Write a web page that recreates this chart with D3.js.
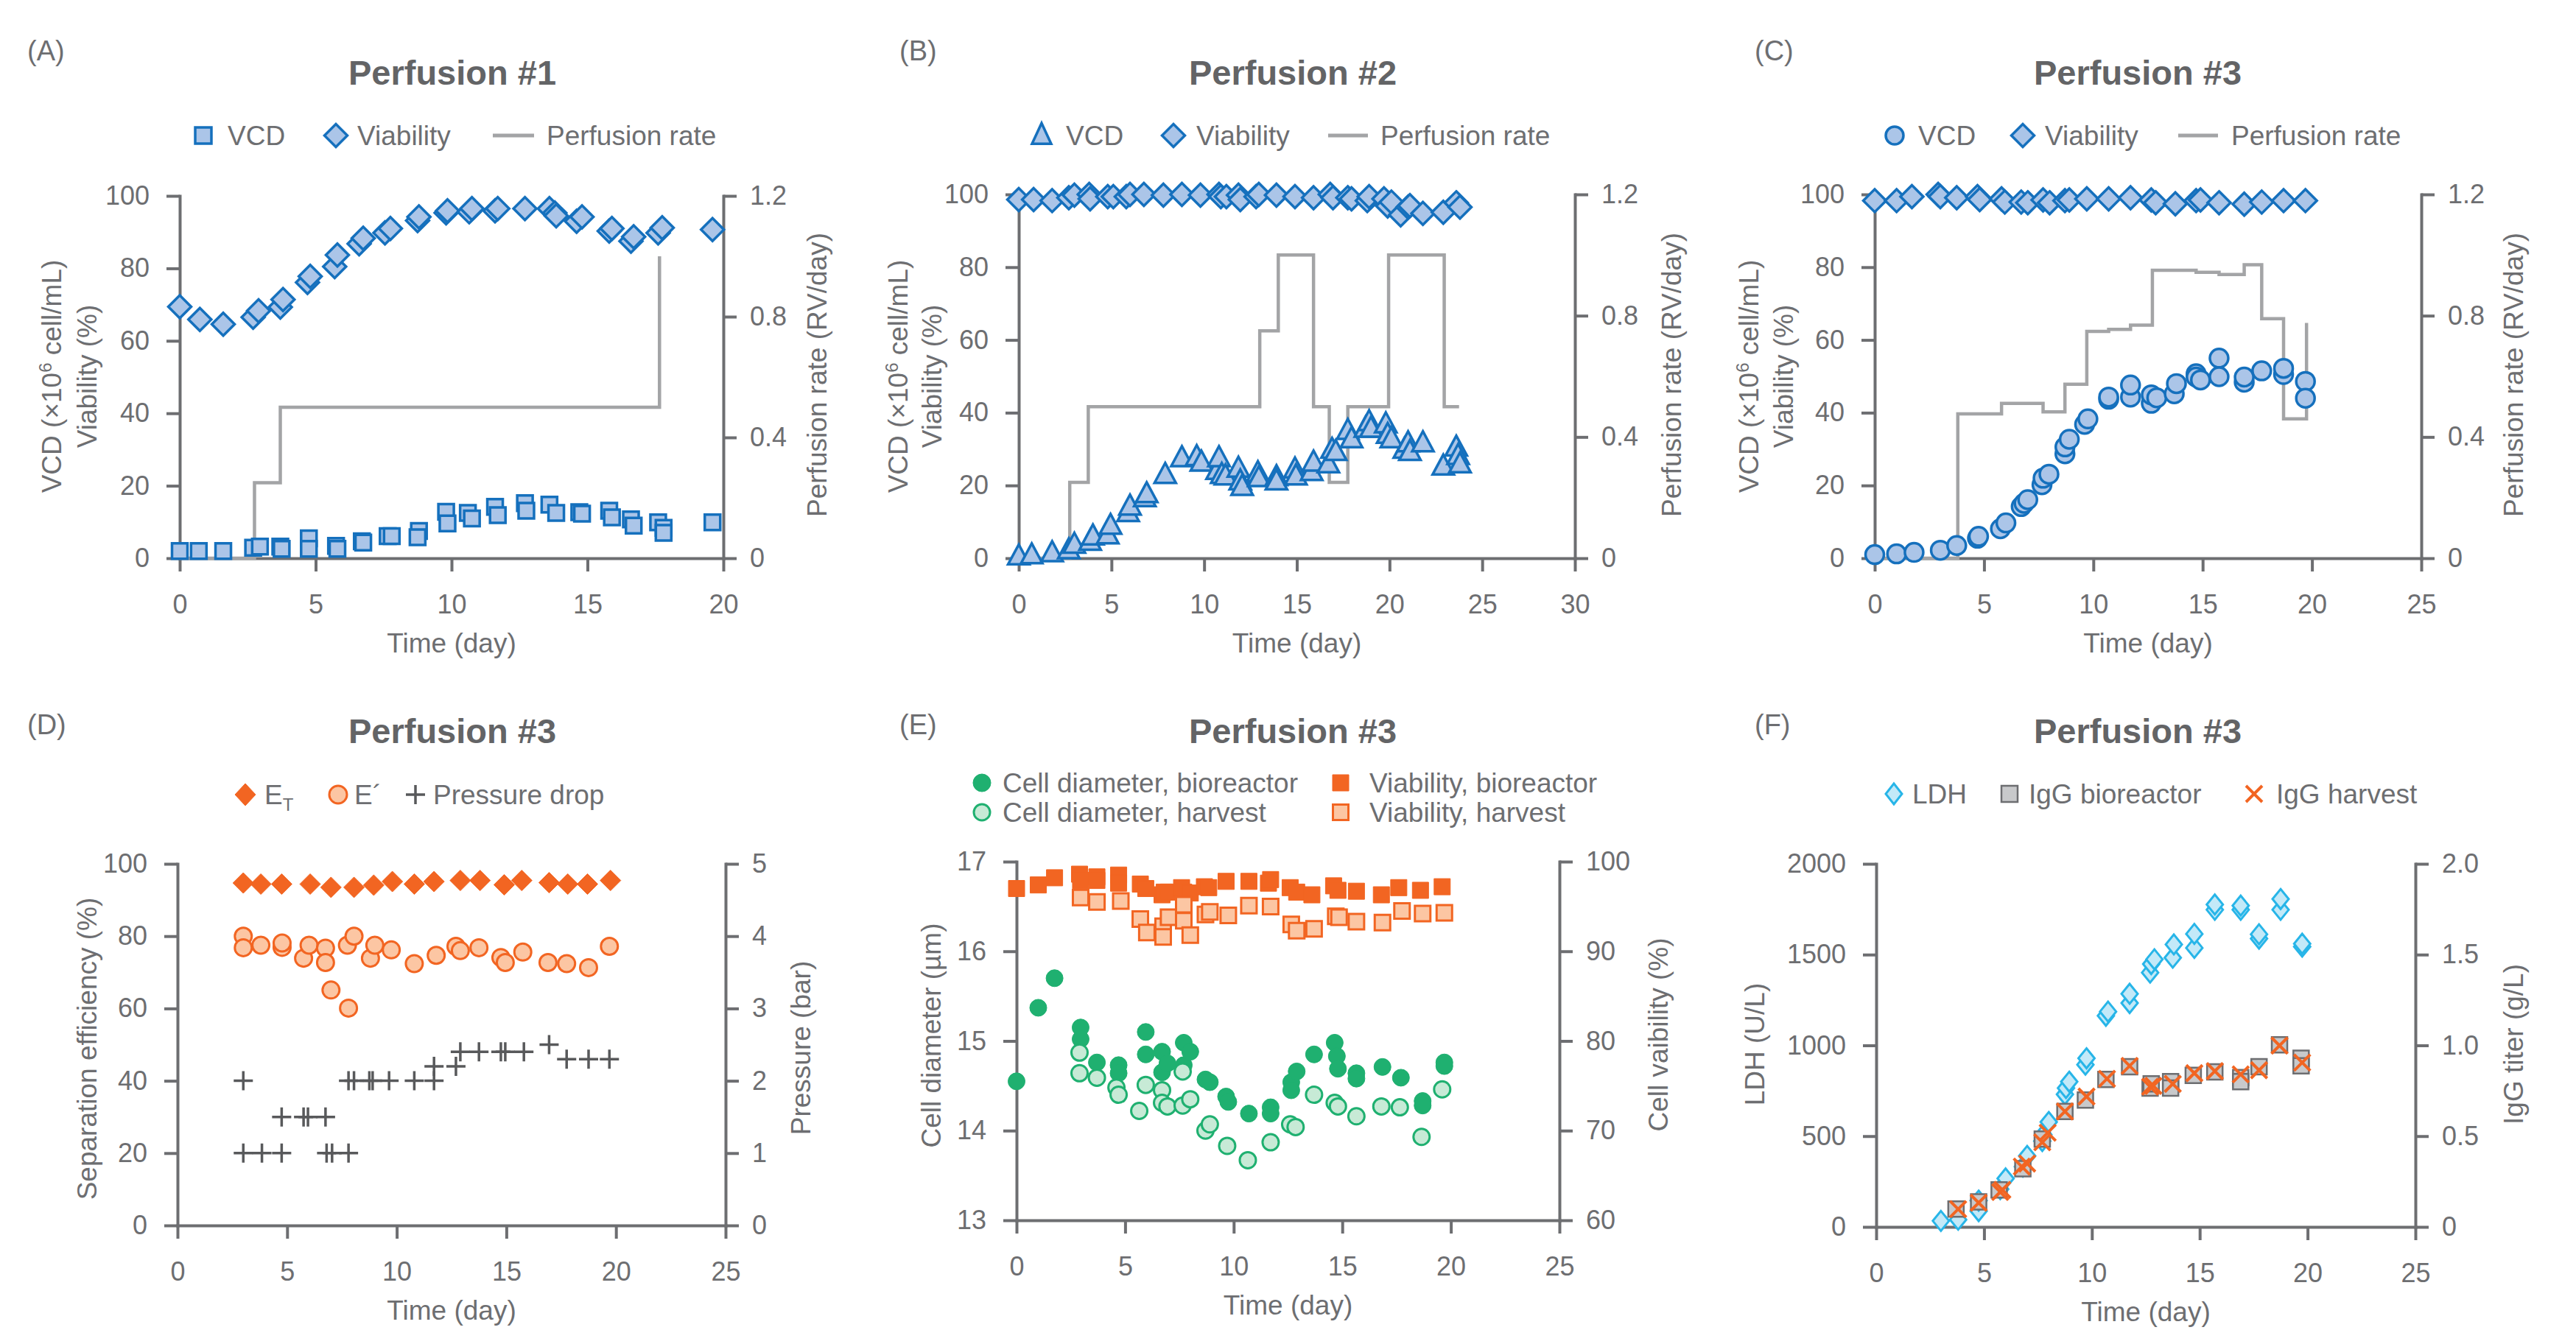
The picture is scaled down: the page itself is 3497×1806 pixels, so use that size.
<html>
<head>
<script src="https://d3js.org/d3.v7.min.js"></script>
<style>
  body { margin: 0; background: white; }
  text { font-family: "Liberation Sans", Arial, sans-serif; fill: #6d6e71; }
</style>
</head>
<body>
<svg width="3497" height="1806"></svg>
<script>
// ---- data (day, value) ----
var vcdA = [[0,2.0],[0.7,2.0],[1.6,2.0],[2.7,2.9],[2.95,3.2],[3.7,3.2],[3.75,2.6],[4.75,5.5],[4.75,2.6],[5.75,3.4],[5.8,2.6],[6.7,4.7],[6.75,4.3],[7.65,6.1],[7.8,6.1],[8.8,7.5],[8.75,5.8],[9.8,12.8],[9.85,9.6],[10.6,12.5],[10.75,11.0],[11.6,14.2],[11.7,11.9],[12.7,15.2],[12.75,13.1],[13.6,14.8],[13.85,12.5],[14.7,12.7],[14.8,12.3],[15.8,13.1],[15.9,11.3],[16.6,10.7],[16.7,9.0],[17.6,9.9],[17.8,8.4],[17.8,7.0],[19.6,9.9]];
var viabA = [[0,69.4],[0.74,65.9],[1.6,64.6],[2.7,66.5],[2.9,68.3],[3.7,69.3],[3.8,71.4],[4.7,76.1],[4.8,77.8],[5.7,80.5],[5.8,83.7],[6.6,86.8],[6.75,88.3],[7.55,89.8],[7.75,91.0],[8.75,93.2],[8.8,94.2],[9.8,95.3],[9.85,95.9],[10.65,95.6],[10.75,96.5],[11.6,95.9],[11.7,96.5],[12.7,96.5],[13.6,96.5],[13.8,95.3],[13.85,94.5],[14.6,93.0],[14.8,94.2],[15.8,90.3],[15.9,91.0],[16.6,87.5],[16.7,88.7],[17.6,89.8],[17.75,91.2],[19.6,90.7]];
var perfDaysA = [0, 2.75, 3.7, 17.65];
var perfRateA = [0, 0.25, 0.5, 1.0];

var vcdB = [[0,0.5],[0.7,0.8],[1.8,1.4],[2.7,2.2],[3.0,3.7],[3.85,4.5],[4.0,6.0],[4.8,6.3],[4.95,8.9],[5.9,12.4],[6.0,14.2],[6.8,16.5],[6.9,17.6],[7.9,22.9],[8.8,27.5],[9.6,27.8],[9.85,26.3],[10.7,24.0],[10.8,27.5],[10.95,22.9],[11.15,22.5],[11.85,24.6],[11.95,21.1],[12.05,19.6],[12.9,23.4],[12.95,22.0],[13.9,22.3],[13.9,21.1],[14.9,24.4],[14.95,22.5],[15.8,23.7],[15.9,26.3],[16.7,25.8],[16.9,29.8],[17.1,29.2],[17.75,35.0],[17.95,32.7],[18.7,35.6],[18.9,37.4],[19.0,35.6],[19.8,36.8],[19.9,33.9],[20.1,32.7],[20.8,29.8],[21.0,31.6],[21.1,29.2],[21.8,31.6],[22.9,25.2],[23.6,30.4],[23.7,28.1],[23.8,25.8]];
var viabB = [[0,98.6],[0.8,98.6],[1.8,98.3],[2.7,99.1],[3.0,99.8],[3.8,100],[3.85,98.8],[4.8,99.4],[5.1,99.4],[5.8,99.4],[6.0,100],[6.75,100],[7.8,99.8],[8.8,100],[9.8,99.8],[10.8,100],[10.9,99.4],[11.2,99.4],[11.85,99.8],[11.95,98.6],[12.8,99.4],[12.95,100],[13.9,99.8],[14.9,99.4],[15.9,99.1],[16.8,100],[16.95,99.1],[17.75,99.1],[17.95,98.8],[18.8,98.3],[18.9,99.4],[19.7,98.8],[19.9,96.8],[20.1,97.9],[20.6,94.4],[21.0,96.5],[21.1,96.9],[21.8,94.8],[22.9,95.1],[23.6,97.7],[23.8,96.5]];
var perfDaysB = [0, 2.75, 3.75, 13.0, 14.0, 15.9, 16.75, 17.75, 19.95, 22.95, 23.75];
var perfRateB = [0, 0.25, 0.5, 0.75, 1.0, 0.5, 0.25, 0.5, 1.0, 0.5, 0.5];

var vcdC = [[0,1.0],[1.0,1.2],[1.8,1.6],[3.0,2.2],[3.75,3.5],[4.7,5.5],[4.75,6.0],[5.75,8.1],[6.0,9.7],[6.7,14.2],[6.83,15.1],[7.0,16.1],[7.65,20.2],[7.7,22.0],[7.97,23.1],[8.7,28.7],[8.7,30.6],[8.9,32.7],[9.6,36.8],[9.75,38.3],[10.7,43.7],[10.7,44.3],[11.7,44.3],[11.7,47.6],[12.65,42.6],[12.65,44.9],[12.9,44.1],[13.7,45.2],[13.8,48.0],[14.7,50.7],[14.7,49.8],[14.9,49.0],[15.75,55.0],[15.75,49.9],[16.9,48.4],[16.9,49.8],[17.7,51.5],[18.7,50.5],[18.7,52.2],[19.7,48.6],[19.7,44.0]];
var viabC = [[0,98.3],[1.0,98.3],[1.7,99.4],[2.9,100],[3.0,99.4],[3.75,99.1],[4.7,99.4],[4.8,98.6],[5.8,98.8],[5.95,97.9],[6.7,97.9],[7.0,97.7],[7.7,98.5],[8.0,97.7],[8.7,98.3],[8.9,98.5],[9.7,98.8],[10.7,98.8],[11.7,99.1],[12.65,98.5],[12.85,97.7],[13.75,97.4],[14.7,98.3],[14.9,98.5],[15.75,97.7],[16.9,97.3],[17.7,97.9],[18.7,98.3],[19.7,98.3]];
var perfDaysC = [0, 3.8, 5.8, 7.7, 8.7, 9.7, 10.7, 11.7, 12.7, 14.7, 15.75, 16.9, 17.7, 18.7, 19.75];
var perfRateC = [0, 0.476, 0.511, 0.483, 0.574, 0.748, 0.755, 0.769, 0.95, 0.943, 0.936, 0.968, 0.79, 0.46, 0.776];

var etD = [[3.0,94.7],[3.8,94.4],[4.75,94.4],[6.05,94.4],[7.0,93.5],[8.05,93.5],[8.95,94.1],[9.8,95.1],[10.8,94.4],[11.7,95.1],[12.9,95.4],[13.8,95.4],[14.9,94.2],[15.7,95.4],[16.95,94.8],[17.8,94.4],[18.7,94.4],[19.75,95.4]];
var epD = [[3.0,80.0],[3.0,76.8],[3.8,77.5],[4.77,76.9],[4.77,78.1],[5.75,73.9],[6.0,77.5],[6.75,76.7],[6.75,72.7],[7.0,65.1],[7.75,77.5],[8.05,80.0],[7.8,60.1],[8.8,73.9],[9.0,77.5],[9.75,76.2],[10.8,72.4],[11.8,74.7],[12.7,77.2],[12.9,76.0],[13.75,76.8],[14.75,74.1],[14.95,72.7],[15.75,75.6],[16.9,72.7],[17.75,72.4],[18.75,71.3],[19.7,77.2]];
var pressD = [[3.0,2.0],[3.0,1.0],[3.85,1.0],[4.75,1.0],[4.75,1.5],[5.75,1.5],[5.95,1.5],[6.75,1.5],[6.8,1.0],[7.05,1.0],[7.8,1.0],[7.8,2.0],[8.05,2.0],[8.75,2.0],[8.9,2.0],[9.65,2.0],[10.8,2.0],[11.7,2.0],[11.7,2.2],[12.7,2.2],[12.9,2.4],[13.75,2.4],[14.75,2.4],[14.95,2.4],[15.8,2.4],[16.95,2.5],[17.75,2.3],[18.75,2.3],[19.7,2.3]];

var diamBioE = [[0,14.55],[1.0,15.37],[1.75,15.70],[2.95,15.15],[2.95,15.02],[3.7,14.76],[4.7,14.73],[4.7,14.64],[5.95,15.10],[5.95,14.85],[6.7,14.88],[6.7,14.65],[6.95,14.75],[7.7,14.98],[7.7,14.73],[8.0,14.88],[8.7,14.57],[8.9,14.54],[9.65,14.38],[9.75,14.32],[10.7,14.19],[11.7,14.26],[11.7,14.19],[12.65,14.54],[12.65,14.45],[12.9,14.66],[13.7,14.85],[14.65,14.98],[14.75,14.83],[14.8,14.69],[15.65,14.64],[15.65,14.58],[16.85,14.71],[17.7,14.59],[18.7,14.33],[18.7,14.28],[19.7,14.76],[19.7,14.72]];
var diamHarvE = [[2.9,14.87],[2.9,14.64],[3.7,14.59],[4.6,14.48],[4.7,14.40],[5.65,14.22],[5.95,14.51],[6.7,14.45],[6.7,14.31],[6.95,14.27],[7.65,14.66],[7.65,14.28],[8.0,14.35],[8.7,14.00],[8.9,14.07],[9.7,13.83],[10.65,13.67],[11.7,13.87],[12.6,14.07],[12.85,14.04],[13.7,14.40],[14.65,14.31],[14.8,14.27],[15.65,14.16],[16.8,14.27],[17.65,14.26],[18.65,13.93],[19.6,14.46]];
var viabBioE = [[0,97.0],[1.0,97.4],[1.75,98.2],[2.9,98.6],[2.95,97.9],[3.7,98.3],[3.7,97.9],[4.7,98.5],[4.7,97.6],[5.7,97.5],[5.95,97.0],[6.7,96.3],[6.8,96.6],[7.0,96.6],[7.6,97.1],[7.7,96.6],[8.0,96.5],[8.65,97.2],[8.85,97.1],[9.65,97.8],[10.7,97.8],[11.6,97.6],[11.7,98.0],[12.6,97.1],[12.9,96.6],[13.6,96.3],[14.6,97.3],[14.8,96.8],[15.65,96.7],[16.8,96.3],[17.6,97.1],[18.6,96.8],[19.6,97.2]];
var viabHarvE = [[2.95,96.0],[3.7,95.5],[4.8,95.6],[5.7,93.6],[6.0,92.1],[6.75,92.8],[6.75,91.6],[7.0,93.8],[7.7,95.2],[7.7,93.4],[8.0,91.8],[8.7,94.1],[8.9,94.4],[9.75,94.0],[10.7,95.1],[11.7,95.0],[12.65,93.0],[12.9,92.3],[13.7,92.5],[14.7,93.9],[14.85,93.8],[15.65,93.3],[16.85,93.2],[17.75,94.5],[18.7,94.2],[19.7,94.3]];

var ldhF = [[3.0,33],[3.8,40],[4.75,87],[4.75,145],[5.75,208],[6.0,267],[6.8,332],[7.0,391],[7.7,473],[7.75,508],[8.0,578],[8.75,730],[8.8,765],[8.95,800],[9.7,894],[9.75,929],[10.65,1163],[10.75,1186],[11.75,1233],[11.75,1284],[12.7,1401],[12.75,1448],[12.9,1474],[13.75,1483],[13.8,1556],[14.75,1537],[14.75,1614],[15.7,1747],[15.7,1776],[16.9,1747],[16.9,1770],[17.75,1588],[17.75,1612],[18.75,1747],[18.75,1806],[19.75,1544],[19.75,1560]];
var iggBioF = [[3.7,0.098],[4.75,0.138],[5.7,0.204],[6.8,0.320],[7.7,0.484],[8.75,0.636],[9.7,0.699],[10.65,0.812],[11.75,0.882],[12.7,0.765],[12.75,0.788],[13.65,0.800],[13.65,0.765],[14.7,0.835],[15.7,0.854],[16.9,0.823],[16.9,0.800],[17.75,0.882],[18.7,1.003],[19.7,0.929],[19.7,0.887]];
var iggHarvF = [[3.8,0.098],[4.75,0.133],[5.75,0.192],[5.85,0.204],[6.75,0.332],[7.0,0.349],[7.7,0.466],[7.95,0.519],[8.75,0.636],[9.75,0.718],[10.7,0.816],[11.75,0.887],[12.7,0.772],[12.85,0.777],[13.75,0.788],[14.75,0.847],[15.7,0.858],[16.9,0.840],[17.75,0.863],[18.7,0.999],[19.75,0.905]];

// ---- ticks ----
var pctTicks = [0, 20, 40, 60, 80, 100];
var rateTicks = [0, 0.4, 0.8, 1.2];
var pressTicks = [0, 1, 2, 3, 4, 5];
var diamTicks = [13, 14, 15, 16, 17];
var viabTicks = [60, 70, 80, 90, 100];
var ldhTicks = [0, 500, 1000, 1500, 2000];
var titerTicks = [0, 0.5, 1.0, 1.5, 2.0];

// ---- styles ----
var axisGray = "#6d6e71";
var blueS = "#1570bd", blueF = "#abc5e8";
var lineGray = "#a3a4a6";
var orange = "#f26522", orangeL = "#fcc6a3";
var green = "#1fb070", greenL = "#c7ead6";
var cyan = "#27b5e8", cyanL = "#c3e9f8";
var font = "'Liberation Sans', Arial, sans-serif";

var svg = d3.select("svg");

// shapes
function sq(s) { return "M" + (-s/2) + "," + (-s/2) + "h" + s + "v" + s + "h" + (-s) + "Z"; }
function dia(w, h) { return "M0," + (-h/2) + "L" + (w/2) + ",0L0," + (h/2) + "L" + (-w/2) + ",0Z"; }
function tri(w, h) { return "M0," + (-h*0.6) + "L" + (w/2) + "," + (h*0.4) + "L" + (-w/2) + "," + (h*0.4) + "Z"; }
function circ(r) { return "M" + r + ",0A" + r + "," + r + " 0 1 1 " + (-r) + ",0A" + r + "," + r + " 0 1 1 " + r + ",0Z"; }
function plus(s) { return "M" + (-s) + ",0H" + s + "M0," + (-s) + "V" + s; }
function cross(s) { return "M" + (-s) + "," + (-s) + "L" + s + "," + s + "M" + (-s) + "," + s + "L" + s + "," + (-s); }

function styleAxis(sel) {
  sel.selectAll(".domain").attr("stroke", axisGray).attr("stroke-width", 4).attr("stroke-linecap", "square");
  sel.selectAll(".tick line").attr("stroke", axisGray).attr("stroke-width", 4);
  sel.selectAll(".tick text").attr("fill", axisGray).style("font-size", "36px").style("font-family", font);
}

function makePanel(p) {
  var x = d3.scaleLinear().domain([0, p.xMax]).range([p.L, p.R]);
  var yl = d3.scaleLinear().domain(p.yl).range([p.B, p.T]);
  var yr = d3.scaleLinear().domain(p.yr).range([p.B, p.T]);
  var g = svg.append("g");
  g.append("g").attr("transform", "translate(0," + p.B + ")")
    .call(d3.axisBottom(x).tickValues(d3.range(0, p.xMax + 1, 5)).tickSize(18).tickSizeOuter(0).tickPadding(31))
    .call(styleAxis);
  g.append("g").attr("transform", "translate(" + p.L + ",0)")
    .call(d3.axisLeft(yl).tickValues(p.ylTicks).tickSize(18).tickSizeOuter(0).tickPadding(23).tickFormat(p.ylFmt))
    .call(styleAxis);
  g.append("g").attr("transform", "translate(" + p.R + ",0)")
    .call(d3.axisRight(yr).tickValues(p.yrTicks).tickSize(18).tickSizeOuter(0).tickPadding(18).tickFormat(p.yrFmt))
    .call(styleAxis);

  // panel letter, title, x title
  g.append("text").attr("x", p.letterX).attr("y", p.letterY).style("font-size", "38px").text(p.letter);
  g.append("text").attr("x", p.titleX).attr("y", p.titleY).attr("text-anchor", "middle")
    .style("font-size", "47px").style("font-weight", "bold").style("fill", "#636466").text(p.title);
  g.append("text").attr("x", (p.L + p.R) / 2).attr("y", p.B + 128).attr("text-anchor", "middle")
    .style("font-size", "37px").text("Time (day)");
  return { g: g, x: x, yl: yl, yr: yr };
}

function rotTitle(g, x, y, parts) {
  var t = g.append("text").attr("transform", "translate(" + x + "," + y + ") rotate(-90)")
    .attr("text-anchor", "middle").attr("dy", "0.35em").style("font-size", "37px");
  parts.forEach(function(pt) {
    var s = t.append("tspan").text(pt[0]);
    if (pt[1] == "sup") s.style("font-size", "24px").attr("dy", "-0.55em");
    if (pt[1] == "after") s.attr("dy", "0.35em");
  });
  return t;
}

function dots(g, data, x, y, shape, fill, stroke, sw) {
  g.append("g").selectAll("path").data(data).enter().append("path")
    .attr("d", shape)
    .attr("transform", function(d) { return "translate(" + x(d[0]) + "," + y(d[1]) + ")"; })
    .attr("fill", fill).attr("stroke", stroke).attr("stroke-width", sw);
}

function perfLine(g, days, rates, x, y) {
  var pts = days.map(function(d, i) { return [d, rates[i]]; });
  g.append("path").datum(pts)
    .attr("d", d3.line().x(function(d) { return x(d[0]); }).y(function(d) { return y(d[1]); }).curve(d3.curveStepAfter))
    .attr("fill", "none").attr("stroke", lineGray).attr("stroke-width", 4.5);
}

function legendItem(g, mx, tx, cy, shape, fill, stroke, sw, label) {
  g.append("path").attr("d", shape).attr("transform", "translate(" + mx + "," + cy + ")")
    .attr("fill", fill).attr("stroke", stroke).attr("stroke-width", sw);
  return g.append("text").attr("x", tx).attr("y", cy + 13).style("font-size", "37px").text(label);
}
function legendLine(g, x1, x2, tx, cy, label) {
  g.append("line").attr("x1", x1).attr("x2", x2).attr("y1", cy).attr("y2", cy)
    .attr("stroke", lineGray).attr("stroke-width", 5);
  g.append("text").attr("x", tx).attr("y", cy + 13).style("font-size", "37px").text(label);
}

var fmtInt = d3.format("d");
var fmtRate = function(d) { return d == 0 ? "0" : d3.format(".1f")(d); };

// ---- Panel A ----
var A = makePanel({ L: 244, R: 982, T: 266, B: 758, xMax: 20, yl: [0, 100], yr: [0, 1.2],
  ylTicks: pctTicks, yrTicks: rateTicks, ylFmt: fmtInt, yrFmt: fmtRate,
  letter: "(A)", letterX: 37, letterY: 82, title: "Perfusion #1", titleX: 614, titleY: 115 });
rotTitle(A.g, 70, 511, [["VCD (×10"], ["6", "sup"], [" cell/mL)", "after"]]);
rotTitle(A.g, 118, 511, [["Viability (%)"]]);
rotTitle(A.g, 1109, 509, [["Perfusion rate (RV/day)"]]);
perfLine(A.g, perfDaysA, perfRateA, A.x, A.yr);
dots(A.g, vcdA, A.x, A.yl, sq(21), blueF, blueS, 3.5);
dots(A.g, viabA, A.x, A.yl, dia(31, 31), blueF, blueS, 3.5);
legendItem(A.g, 276, 309, 184, sq(22), blueF, blueS, 3.5, "VCD");
legendItem(A.g, 456, 485, 184, dia(31, 31), blueF, blueS, 3.5, "Viability");
legendLine(A.g, 669, 725, 742, 184, "Perfusion rate");

// ---- Panel B ----
var B = makePanel({ L: 1383, R: 2138, T: 264, B: 758, xMax: 30, yl: [0, 100], yr: [0, 1.2],
  ylTicks: pctTicks, yrTicks: rateTicks, ylFmt: fmtInt, yrFmt: fmtRate,
  letter: "(B)", letterX: 1221, letterY: 82, title: "Perfusion #2", titleX: 1755, titleY: 115 });
rotTitle(B.g, 1219, 511, [["VCD (×10"], ["6", "sup"], [" cell/mL)", "after"]]);
rotTitle(B.g, 1265, 511, [["Viability (%)"]]);
rotTitle(B.g, 2269, 509, [["Perfusion rate (RV/day)"]]);
perfLine(B.g, perfDaysB, perfRateB, B.x, B.yr);
dots(B.g, vcdB, B.x, B.yl, tri(29, 27), blueF, blueS, 3.5);
dots(B.g, viabB, B.x, B.yl, dia(31, 31), blueF, blueS, 3.5);
legendItem(B.g, 1414, 1447, 184, tri(26, 28), blueF, blueS, 3.5, "VCD");
legendItem(B.g, 1593, 1624, 184, dia(31, 31), blueF, blueS, 3.5, "Viability");
legendLine(B.g, 1803, 1857, 1874, 184, "Perfusion rate");

// ---- Panel C ----
var C = makePanel({ L: 2545, R: 3287, T: 264, B: 758, xMax: 25, yl: [0, 100], yr: [0, 1.2],
  ylTicks: pctTicks, yrTicks: rateTicks, ylFmt: fmtInt, yrFmt: fmtRate,
  letter: "(C)", letterX: 2382, letterY: 82, title: "Perfusion #3", titleX: 2902, titleY: 115 });
rotTitle(C.g, 2374, 511, [["VCD (×10"], ["6", "sup"], [" cell/mL)", "after"]]);
rotTitle(C.g, 2421, 511, [["Viability (%)"]]);
rotTitle(C.g, 3412, 509, [["Perfusion rate (RV/day)"]]);
perfLine(C.g, perfDaysC, perfRateC, C.x, C.yr);
dots(C.g, vcdC, C.x, C.yl, circ(12.5), blueF, blueS, 3.5);
dots(C.g, viabC, C.x, C.yl, dia(31, 31), blueF, blueS, 3.5);
legendItem(C.g, 2572, 2604, 184, circ(12), blueF, blueS, 3.5, "VCD");
legendItem(C.g, 2746, 2776, 184, dia(31, 31), blueF, blueS, 3.5, "Viability");
legendLine(C.g, 2957, 3011, 3029, 184, "Perfusion rate");

// ---- Panel D ----
var D = makePanel({ L: 241, R: 985, T: 1173, B: 1664, xMax: 25, yl: [0, 100], yr: [0, 5],
  ylTicks: pctTicks, yrTicks: pressTicks, ylFmt: fmtInt, yrFmt: fmtInt,
  letter: "(D)", letterX: 37, letterY: 997, title: "Perfusion #3", titleX: 614, titleY: 1009 });
rotTitle(D.g, 118, 1424, [["Separation efficiency (%)"]]);
rotTitle(D.g, 1087, 1423, [["Pressure (bar)"]]);
dots(D.g, pressD, D.x, D.yr, plus(13), "none", "#58595b", 3.5);
dots(D.g, epD, D.x, D.yl, circ(11.5), orangeL, orange, 3);
dots(D.g, etD, D.x, D.yl, dia(28, 28), orange, orange, 1);
legendItem(D.g, 333, 359, 1079, dia(28, 30), orange, orange, 1, "E")
  .append("tspan").attr("dy", 9).style("font-size", "24px").text("T");
legendItem(D.g, 459, 481, 1079, circ(12), orangeL, orange, 3, "E´");
legendItem(D.g, 564, 588, 1079, plus(13), "none", "#58595b", 3.5, "Pressure drop");

// ---- Panel E ----
var E = makePanel({ L: 1380, R: 2117, T: 1170, B: 1657, xMax: 25, yl: [13, 17], yr: [60, 100],
  ylTicks: diamTicks, yrTicks: viabTicks, ylFmt: fmtInt, yrFmt: fmtInt,
  letter: "(E)", letterX: 1221, letterY: 997, title: "Perfusion #3", titleX: 1755, titleY: 1009 });
rotTitle(E.g, 1264, 1406, [["Cell diameter (µm)"]]);
rotTitle(E.g, 2251, 1405, [["Cell vaibility (%)"]]);
dots(E.g, viabBioE, E.x, E.yr, sq(22), orange, orange, 1);
dots(E.g, viabHarvE, E.x, E.yr, sq(21), orangeL, orange, 3);
dots(E.g, diamBioE, E.x, E.yl, circ(11.5), green, green, 1);
dots(E.g, diamHarvE, E.x, E.yl, circ(11), greenL, green, 3);
legendItem(E.g, 1333, 1361, 1063, circ(12), green, green, 1, "Cell diameter, bioreactor");
legendItem(E.g, 1333, 1361, 1103, circ(11), greenL, green, 3, "Cell diameter, harvest");
legendItem(E.g, 1820, 1859, 1063, sq(22), orange, orange, 1, "Viability, bioreactor");
legendItem(E.g, 1820, 1859, 1103, sq(21), orangeL, orange, 3, "Viability, harvest");

// ---- Panel F ----
var F = makePanel({ L: 2547, R: 3279, T: 1173, B: 1666, xMax: 25, yl: [0, 2000], yr: [0, 2],
  ylTicks: ldhTicks, yrTicks: titerTicks, ylFmt: fmtInt, yrFmt: fmtRate,
  letter: "(F)", letterX: 2382, letterY: 997, title: "Perfusion #3", titleX: 2902, titleY: 1009 });
rotTitle(F.g, 2382, 1418, [["LDH (U/L)"]]);
rotTitle(F.g, 3412, 1418, [["IgG titer (g/L)"]]);
dots(F.g, ldhF, F.x, F.yl, dia(22, 27), cyanL, cyan, 3);
dots(F.g, iggBioF, F.x, F.yr, sq(21), "#c8c9cb", "#6d6e71", 2.5);
dots(F.g, iggHarvF, F.x, F.yr, cross(11), "none", orange, 4);
legendItem(F.g, 2571, 2596, 1078, dia(22, 28), cyanL, cyan, 3, "LDH");
legendItem(F.g, 2728, 2754, 1078, sq(22), "#c8c9cb", "#6d6e71", 2.5, "IgG bioreactor");
legendItem(F.g, 3060, 3090, 1078, cross(11), "none", orange, 4, "IgG harvest");
</script>
</body>
</html>
